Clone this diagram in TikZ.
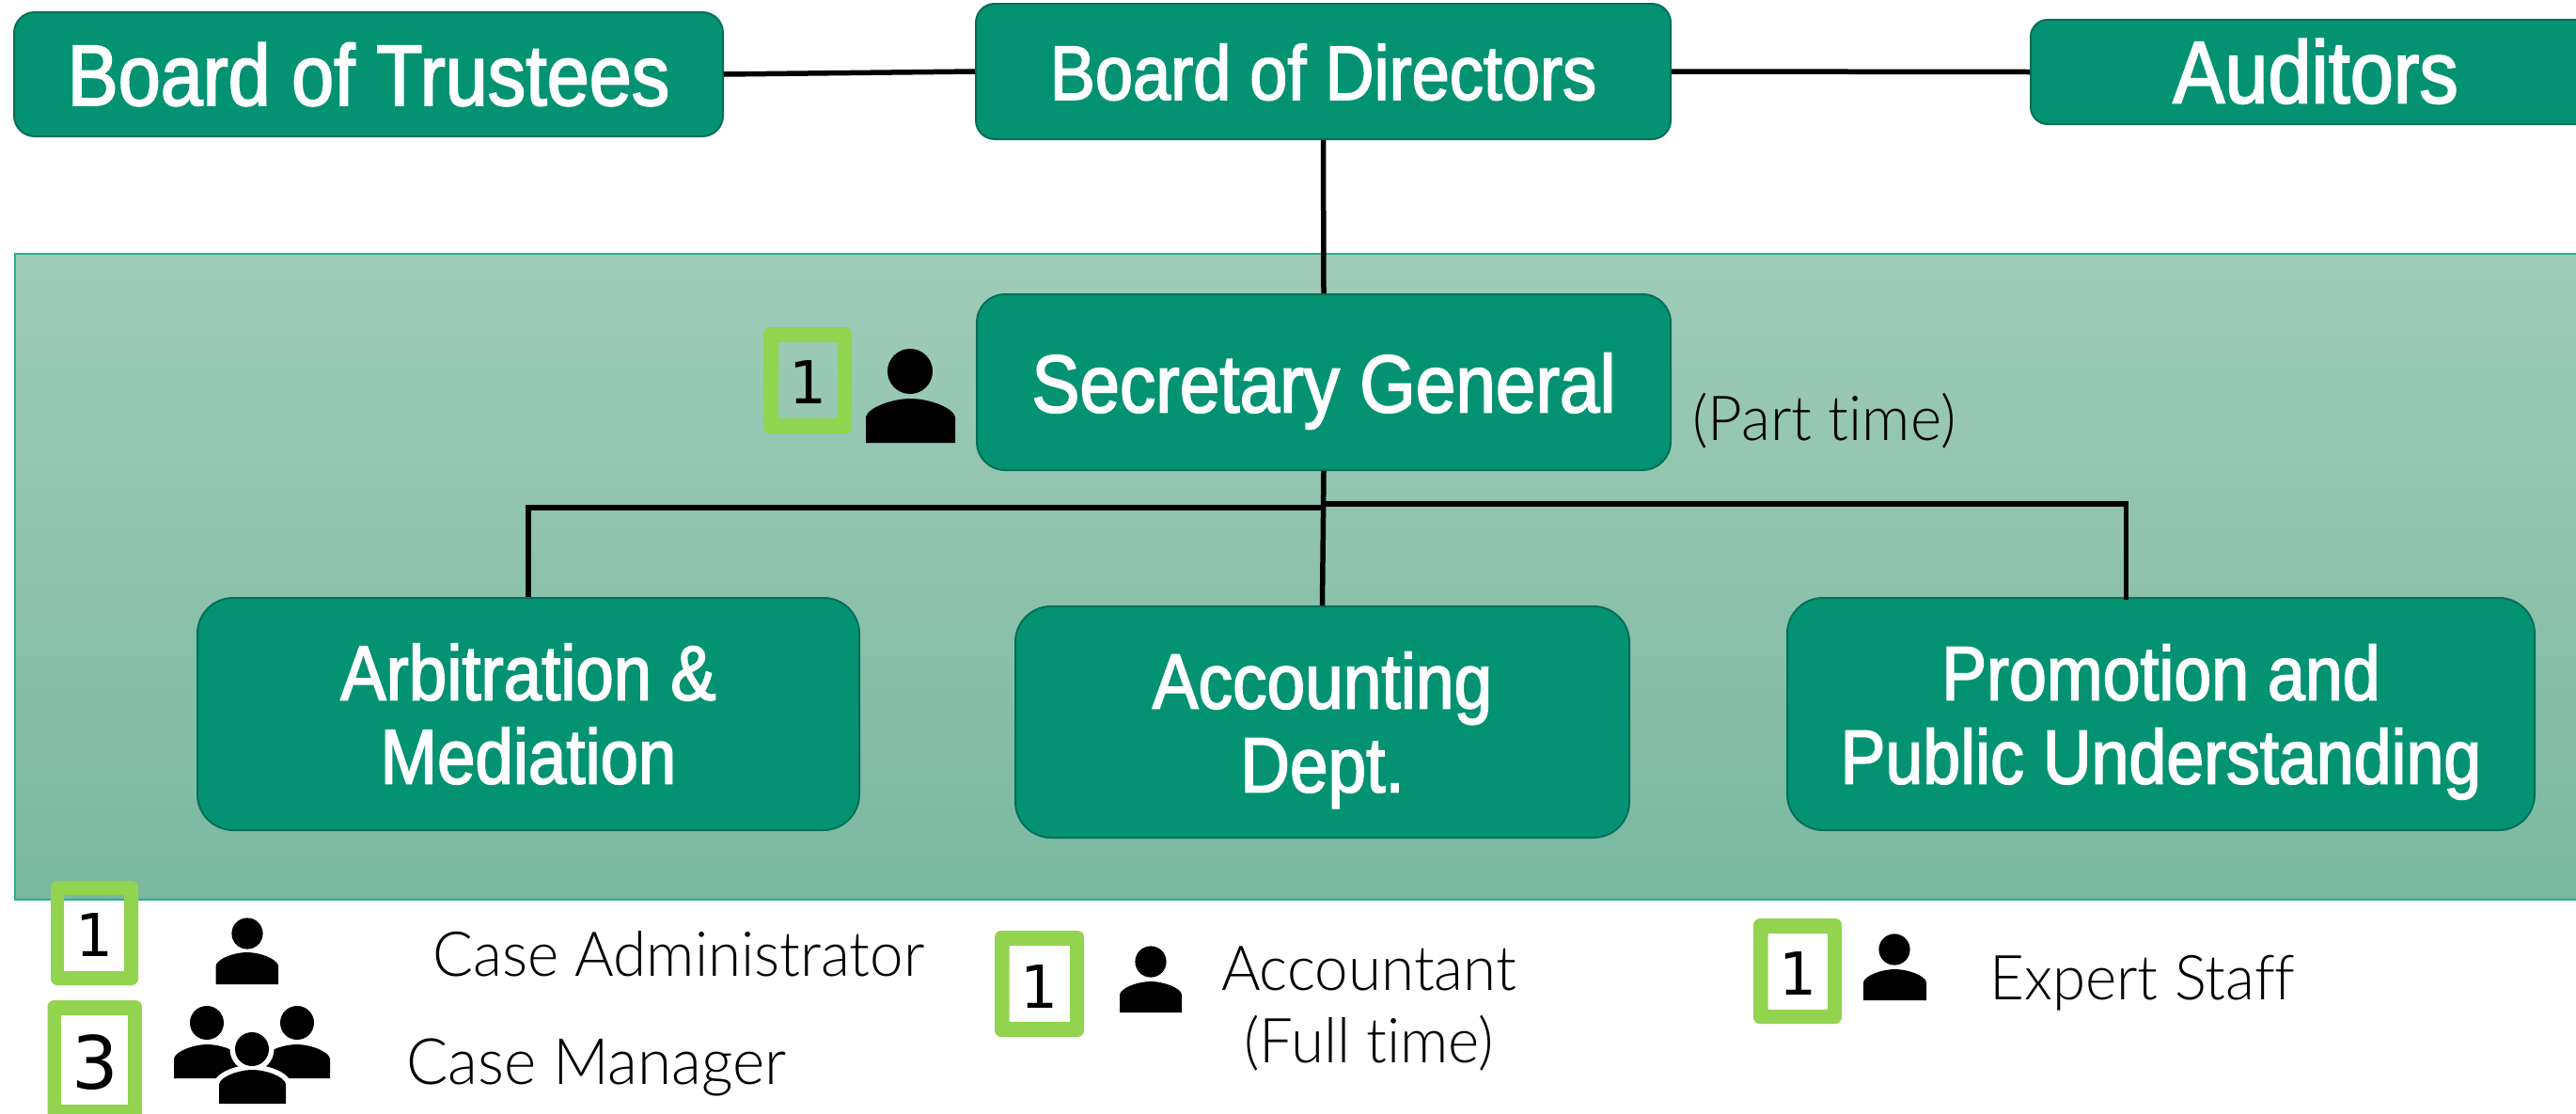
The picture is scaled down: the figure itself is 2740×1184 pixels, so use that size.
\documentclass[tikz,border=0pt]{standalone}
\usepackage{fontspec}
\setmainfont{Liberation Sans}
\newfontfamily\titlefont[FakeStretch=0.88,FakeBold=2]{Liberation Sans}
\newfontfamily\lightfont[FakeStretch=0.965,Ligatures=NoCommon]{Lato Light}
\newfontfamily\digitfont{DejaVu Sans}
\definecolor{boxfill}{HTML}{039373}
\definecolor{boxedge}{HTML}{056F58}
\definecolor{paneltop}{HTML}{A0CCB9}
\definecolor{panelbot}{HTML}{7AB8A1}
\definecolor{paneledge}{HTML}{2AAE8F}
\definecolor{badge}{HTML}{92D350}
\newcommand{\tsize}[1]{\titlefont\fontsize{#1}{89}\selectfont}
\newcommand{\nodepth}[1]{\raisebox{0pt}[\height][0pt]{#1}}
\tikzset{
  orgbox/.style={draw=boxedge,fill=boxfill,line width=2pt,text=white,align=center,inner sep=0pt},
  wire/.style={draw=black,line width=5.5pt},
  digit/.style={anchor=base,inner sep=0pt,font=\digitfont\fontsize{63}{63}\selectfont},
  lab/.style={inner sep=0pt,font=\lightfont\fontsize{66}{78}\selectfont},
}
% cx, head cy, head r, body x1, body x2, body y1, body y2
\newcommand{\personicon}[8][]{%
  \path[fill=black,#1] (#2,#3) ellipse [x radius=#4,y radius=#4];
  \path[fill=black,#1] (#5,#8) -- (#5,{#7+0.42*(#8-#7)})
     .. controls ({#5+0.02*(#6-#5)},{#7+0.2*(#8-#7)}) and ({#5+0.3*(#6-#5)},#7) .. ({0.5*(#5+#6)},#7)
     .. controls ({#6-0.3*(#6-#5)},#7) and ({#6-0.02*(#6-#5)},{#7+0.2*(#8-#7)}) .. (#6,{#7+0.42*(#8-#7)})
     -- (#6,#8) -- cycle;
}
% outer x1,y1,x2,y2, inner x1,y1,x2,y2
\newcommand{\badgering}[8]{%
  \fill[badge,even odd rule,rounded corners=7pt] (#1,#2) rectangle (#3,#4)
     [sharp corners] (#5,#6) rectangle (#7,#8);
}
\begin{document}
\begin{tikzpicture}[x=1pt,y=-1pt]
\useasboundingbox (0,0) rectangle (2740,1184);
\fill[white] (0,0) rectangle (2740,1184);
% panel
\path[draw=paneledge,line width=2pt,top color=paneltop,bottom color=panelbot] (16,270) rectangle (2770,957);
% boxes
\node[orgbox,rounded corners=22pt,minimum width=754pt,minimum height=132pt,text height=66pt,text depth=0pt,font=\tsize{92}] (trustees) at (392,79) {Board of Trustees};
\node[orgbox,rounded corners=20pt,minimum width=739pt,minimum height=144pt,text height=60pt,text depth=0pt,font=\tsize{82}] (directors) at (1407.5,76) {Board of Directors};
\node[orgbox,rounded corners=18pt,minimum width=606pt,minimum height=111pt,text height=66pt,text depth=0pt,font=\tsize{94}] (auditors) at (2463,76.5) {Auditors};
\node[orgbox,rounded corners=30pt,minimum width=738pt,minimum height=187pt,text height=64pt,text depth=0pt,font=\tsize{87}] (secgen) at (1408,406.5) {Secretary General};
\node[orgbox,rounded corners=38pt,minimum width=704pt,minimum height=247pt,font=\tsize{82.5}] (arb) at (562,759.5) {Arbitration \&\\Mediation};
\node[orgbox,rounded corners=38pt,minimum width=653pt,minimum height=246pt,font=\tsize{83}] (acct) at (1406.5,768) {Accounting\\\nodepth{Dept.}};
\node[orgbox,rounded corners=38pt,minimum width=795pt,minimum height=247pt,font=\tsize{81.5}] (promo) at (2298.5,759.5) {Promotion and\\\nodepth{Public Understanding}};
% connectors
\coordinate (jl) at (1408,540);
\coordinate (jr) at (1408,536);
\draw[wire] (trustees.east) -- (directors.west);
\draw[wire] (directors.east) -- (auditors.west);
\draw[wire] (directors.south) -- (secgen.north);
\draw[wire] (secgen.south) -- (acct.north);
\draw[wire] (jl) -| (arb.north);
\draw[wire] (jr) -| ([xshift=-37pt,yshift=-3pt]promo.north);
% part-time label
\node[lab,anchor=base west] (parttime) at (1800,468) {(Part time)};
% secretary person
\badgering{812}{348}{906}{461}{828}{364}{891}{445}
\node[digit] (d1) at (860,429) {1};
\personicon{968}{395}{24}{921}{1016}{424}{471}
% case administrator
\badgering{54}{937}{147}{1048}{68}{952}{132}{1033}
\node[digit] (d2) at (101,1017) {1};
\personicon{263}{993}{16.6}{229.5}{296}{1013}{1047}
\node[lab,anchor=base west] (caseadm) at (460,1038) {Case Administrator};
% case manager
\badgering{50.5}{1064}{151}{1195}{65}{1080}{136}{1175}
\node[digit,font=\digitfont\fontsize{78}{78}\selectfont] (d3) at (101,1158) {3};
\personicon{220}{1088}{18}{185}{256}{1111}{1147}
\personicon{316}{1088}{18}{280}{351}{1111}{1147}
\personicon[draw=white,line width=11pt]{268}{1116}{18}{233}{304}{1138}{1174}
\personicon{268}{1116}{18}{233}{304}{1138}{1174}
\node[lab,anchor=base west,font=\lightfont\fontsize{68}{78}\selectfont] (casemgr) at (432,1153) {Case Manager};
% accountant
\badgering{1058}{990}{1153}{1103}{1073.5}{1006}{1138}{1087}
\node[digit] (d4) at (1106,1072) {1};
\personicon{1224}{1023}{16.6}{1191}{1257}{1044}{1077}
\node[lab,anchor=base] (acctlab) at (1456,1053) {Accountant};
\node[lab,anchor=base] (fulltime) at (1456,1130) {(Full time)};
% expert
\badgering{1865}{977}{1959}{1089}{1880.5}{993}{1944}{1074}
\node[digit] (d5) at (1913,1058) {1};
\personicon{2015}{1010}{16.6}{1982}{2049}{1031}{1064}
\node[lab,anchor=base west] (expert) at (2116,1063) {Expert Staff};
\end{tikzpicture}
\end{document}
